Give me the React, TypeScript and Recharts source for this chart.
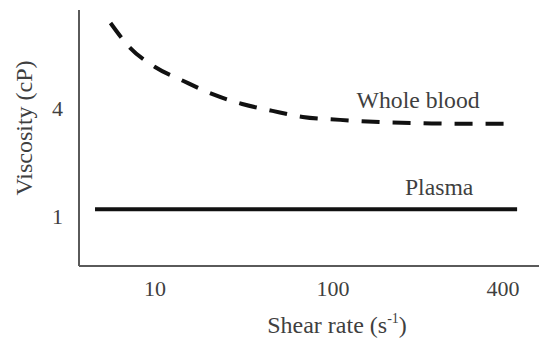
import React from "react";
import { LineChart, Line, XAxis, YAxis, ReferenceDot } from "recharts";

// x positions are on the figure's shear-rate axis (tick "10" at 1, "100" at 2, "400" at 2.955)
const xTickPositions = [1, 2, 2.955];
const xTickLabels = ["10", "100", "400"];
const yTicks = [1, 4];

const wholeBloodX = [0.75, 0.86, 1.0, 1.16, 1.32, 1.49, 1.66, 1.83, 2.04, 2.26, 2.49, 2.71, 2.99];
const wholeBloodY = [6.36, 5.67, 5.14, 4.75, 4.39, 4.11, 3.92, 3.75, 3.67, 3.61, 3.58, 3.56, 3.56];

const plasmaX = [0.663, 3.034];
const plasmaY = [1.19, 1.19];

const wholeBlood = wholeBloodX.map((x, i) => ({ x, y: wholeBloodY[i] }));
const plasma = plasmaX.map((x, i) => ({ x, y: plasmaY[i] }));

const FONT = "Liberation Serif, Times New Roman, serif";
const TEXT = "#3f3f3f";
const AXIS = "#5a5a5a";

const fmtX = (v: number) => {
  const i = xTickPositions.indexOf(v);
  return i >= 0 ? xTickLabels[i] : "";
};

const XTitle = (props: any) => {
  const vb = props.viewBox || {};
  const cx = vb.x + vb.width / 2 + 28;
  const y = vb.y + 67;
  return (
    <text x={cx} y={y} textAnchor="middle" fontFamily={FONT} fontSize={24} fill={TEXT}>
      <tspan>Shear rate (s</tspan>
      <tspan fontSize={14} dy={-10}>-1</tspan>
      <tspan dy={10}>)</tspan>
    </text>
  );
};

const YTitle = () => {
  const cx = 24;
  const cy = 128;
  return (
    <text
      x={cx}
      y={cy}
      transform={`rotate(-90, ${cx}, ${cy})`}
      textAnchor="middle"
      dominantBaseline="central"
      fontFamily={FONT}
      fontSize={24}
      fill={TEXT}
    >
      Viscosity (cP)
    </text>
  );
};

const makeNote = (text: string) => (props: any) => {
  const vb = props.viewBox || {};
  const cx = vb.x + (vb.width || 0) / 2;
  const cy = vb.y + (vb.height || 0) / 2;
  return (
    <text x={cx} y={cy} textAnchor="middle" dominantBaseline="central" fontFamily={FONT} fontSize={23.7} fill={TEXT}>
      {text}
    </text>
  );
};
const WholeBloodNote = makeNote("Whole blood");
const PlasmaNote = makeNote("Plasma");

export default function App() {
  return (
    <div style={{ position: "absolute", left: 0, top: 0, width: 539, height: 343, background: "#fff" }}>
      <LineChart width={539} height={343} margin={{ top: 10, right: 0, bottom: 0, left: 0 }}>
        <XAxis
          type="number"
          dataKey="x"
          domain={[0.573, 3.157]}
          ticks={xTickPositions}
          tickFormatter={fmtX}
          allowDataOverflow
          height={77}
          tickLine={false}
          tickMargin={8}
          axisLine={{ stroke: AXIS, strokeWidth: 2 }}
          tick={{ fill: TEXT, fontSize: 22, fontFamily: FONT }}
          label={<XTitle />}
        />
        <YAxis
          type="number"
          dataKey="y"
          domain={[-0.389, 6.722]}
          ticks={yTicks}
          allowDataOverflow
          width={79}
          tickLine={false}
          tickMargin={10}
          axisLine={{ stroke: AXIS, strokeWidth: 2 }}
          tick={{ fill: TEXT, fontSize: 22, fontFamily: FONT }}
          label={<YTitle />}
        />
        <Line
          data={wholeBlood}
          dataKey="y"
          type="monotone"
          stroke="#111"
          strokeWidth={4}
          strokeDasharray="18 13"
          dot={false}
          activeDot={false}
          isAnimationActive={false}
        />
        <Line
          data={plasma}
          dataKey="y"
          type="linear"
          stroke="#111"
          strokeWidth={4}
          dot={false}
          activeDot={false}
          isAnimationActive={false}
        />
        <ReferenceDot x={2.478} y={4.22} r={0} stroke="none" fill="none" label={<WholeBloodNote />} />
        <ReferenceDot x={2.596} y={1.81} r={0} stroke="none" fill="none" label={<PlasmaNote />} />
      </LineChart>
    </div>
  );
}
